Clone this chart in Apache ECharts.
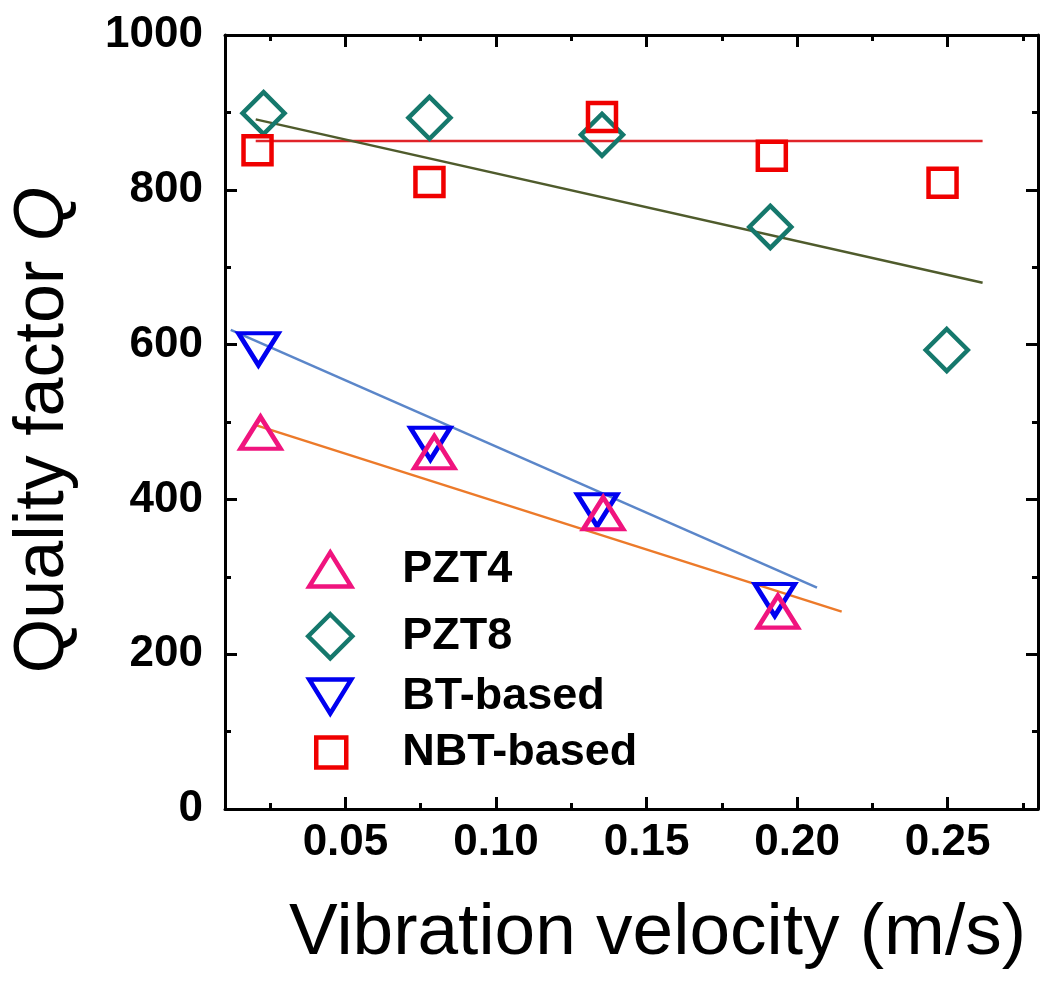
<!DOCTYPE html>
<html>
<head>
<meta charset="utf-8">
<script src="https://cdn.jsdelivr.net/npm/echarts@6/dist/echarts.min.js"></script>
<style>html,body{margin:0;padding:0;background:#fff;}#chart{width:1050px;height:994px;}</style>
</head>
<body>
<div id="chart"></div>
<script>
// ---- data ----
const pzt4X = [0.0218, 0.0795, 0.1356, 0.1936];
const pzt4Y = [486, 461, 382, 255];
const pzt8X = [0.0228, 0.0779, 0.1352, 0.1911, 0.2497];
const pzt8Y = [899, 893, 871, 752, 593];
const btX = [0.0211, 0.0782, 0.1336, 0.1926];
const btY = [594, 472, 386, 270];
const nbtX = [0.0208, 0.0779, 0.1352, 0.1916, 0.2483];
const nbtY = [851, 810, 894, 844, 809];
// linear fit end points
const fitPzt4X = [0.0202, 0.2148];
const fitPzt4Y = [496, 255];
const fitBtX = [0.0119, 0.2066];
const fitBtY = [619, 286];
const fitPzt8X = [0.0202, 0.2616];
const fitPzt8Y = [891, 680];
const fitNbtX = [0.0202, 0.2616];
const fitNbtY = [863, 863];
// ticks
const xMajorTicks = [0.05, 0.10, 0.15, 0.20, 0.25];
const xMinorTicks = [0.025, 0.075, 0.125, 0.175, 0.225, 0.275];
const seriesNames = ['PZT4', 'PZT8', 'BT-based', 'NBT-based'];

const pairs = (xs, ys) => xs.map((x, i) => [x, ys[i]]);
const FONT = "'Liberation Sans', Arial, sans-serif";
const C = { pzt4: '#f0147e', pzt8: '#15786c', bt: '#0000f0', nbt: '#f00000' };

const chart = echarts.init(document.getElementById('chart'), null, { renderer: 'canvas' });

function xAxisDef(pos, ticks, len, withLabels, showLine, extra) {
  return Object.assign({
    type: 'value', min: 0.01, max: 0.28, position: pos,
    axisLine: { show: showLine, onZero: false, lineStyle: { color: '#000', width: 3 } },
    axisTick: { show: true, inside: true, length: len, customValues: ticks, lineStyle: { color: '#000', width: 3 } },
    axisLabel: withLabels ? {
      show: true, customValues: ticks, formatter: v => v.toFixed(2),
      fontSize: 44, fontWeight: 'bold', fontFamily: FONT, color: '#000', margin: 12
    } : { show: false },
    splitLine: { show: false }
  }, extra || {});
}

function yAxisDef(pos, withLabels, extra) {
  return Object.assign({
    type: 'value', min: 0, max: 1000, interval: 200, position: pos,
    axisLine: { show: true, onZero: false, lineStyle: { color: '#000', width: 3 } },
    axisTick: { show: true, inside: true, length: 12, lineStyle: { color: '#000', width: 3 } },
    minorTick: { show: true, splitNumber: 2, length: 6, lineStyle: { color: '#000', width: 3 } },
    axisLabel: withLabels ? { show: true, formatter: v => String(v), fontSize: 44, fontWeight: 'bold', fontFamily: FONT, color: '#000', margin: 22 } : { show: false },
    splitLine: { show: false }
  }, extra || {});
}

function scatter(name, xs, ys, symbol, size, color, rotate) {
  return {
    name, type: 'scatter', xAxisIndex: 0, yAxisIndex: 0,
    data: pairs(xs, ys), symbol, symbolSize: size, symbolRotate: rotate || 0,
    itemStyle: { color: 'rgba(255,255,255,0)', borderColor: color, borderWidth: 4.5, opacity: 1 },
    z: 5, emphasis: { disabled: true }
  };
}
function fit(name, xs, ys, color) {
  return {
    name, type: 'line', xAxisIndex: 0, yAxisIndex: 0, data: pairs(xs, ys),
    showSymbol: false, symbol: 'none', lineStyle: { color, width: 2.5 }, z: 3,
    emphasis: { disabled: true }
  };
}
function legendItem(name, top, left, w, h, pad, icon) {
  const item = { name };
  if (icon) item.icon = icon;
  return {
    data: [item],
    orient: 'vertical', left, top, padding: 0,
    itemWidth: w, itemHeight: h, selectedMode: false,
    itemStyle: { borderWidth: 4.5, opacity: 1 },
    textStyle: { fontSize: 45, fontWeight: 'bold', fontFamily: FONT, color: '#000', padding: [0, 0, 0, pad] }
  };
}

chart.setOption({
  backgroundColor: '#fff',
  animation: false,
  grid: { left: 225, right: 12, top: 35, bottom: 185, containLabel: false },
  xAxis: [
    xAxisDef('bottom', xMajorTicks, 12, true, true, {
      name: 'Vibration velocity (m/s)', nameLocation: 'middle', nameGap: 88,
      nameTextStyle: { fontSize: 73, fontFamily: FONT, color: '#000', padding: [0, 0, 0, 52] }
    }),
    xAxisDef('bottom', xMinorTicks, 6, false, false),
    xAxisDef('top', xMajorTicks, 12, false, true),
    xAxisDef('top', xMinorTicks, 6, false, false)
  ],
  yAxis: [
    yAxisDef('left', true, {
      name: '{a|Quality factor }{b|Q}', nameLocation: 'middle', nameGap: 146,
      nameTextStyle: {
        fontSize: 70, fontFamily: FONT, color: '#000', padding: [0, 16, 0, 0],
        rich: { a: { fontSize: 70, fontFamily: FONT, color: '#000' }, b: { fontSize: 70, fontFamily: FONT, fontStyle: 'italic', color: '#000' } }
      }
    }),
    yAxisDef('right', false)
  ],
  legend: [
    legendItem('PZT4', 547, 307, 42, 34, 46),
    legendItem('PZT8', 612, 306, 44, 44, 45),
    legendItem('BT-based', 674, 307, 42, 34, 46, 'path://M0,0L42,0L21,34Z'),
    legendItem('NBT-based', 730, 314, 30, 30, 51)
  ],
  series: [
    fit('fitNBT', fitNbtX, fitNbtY, '#e0242a'),
    fit('fitPZT8', fitPzt8X, fitPzt8Y, '#4f5b2c'),
    fit('fitBT', fitBtX, fitBtY, '#5b86c9'),
    fit('fitPZT4', fitPzt4X, fitPzt4Y, '#ec7a2a'),
    scatter(seriesNames[1], pzt8X, pzt8Y, 'diamond', 42, C.pzt8),
    scatter(seriesNames[3], nbtX, nbtY, 'rect', 28, C.nbt),
    scatter(seriesNames[2], btX, btY, 'triangle', [40, 32], C.bt, 180),
    scatter(seriesNames[0], pzt4X, pzt4Y, 'triangle', [40, 32], C.pzt4)
  ]
});
</script>
</body>
</html>
